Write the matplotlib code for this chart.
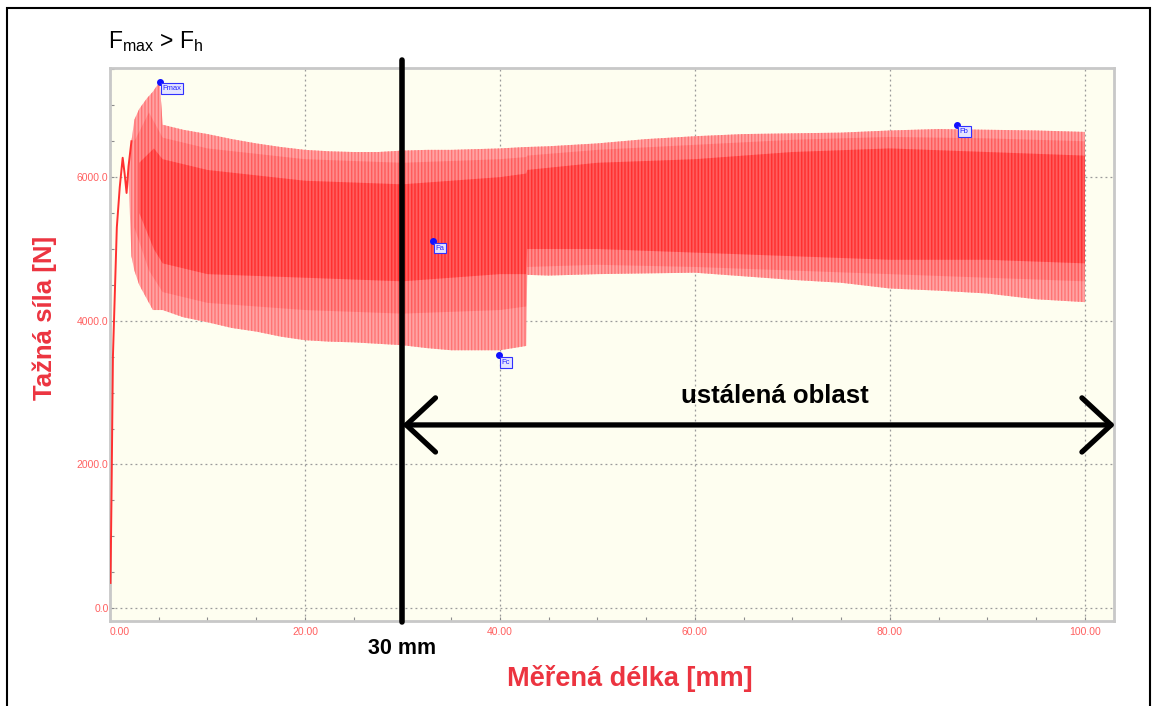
import matplotlib
matplotlib.use('Agg')
import matplotlib.pyplot as plt
from matplotlib.patches import Rectangle

plt.rcParams['font.family'] = ['Liberation Sans', 'DejaVu Sans']
plt.rcParams['mathtext.fontset'] = 'custom'
plt.rcParams['mathtext.rm'] = 'Liberation Sans'
plt.rcParams['hatch.linewidth'] = 1.0

# počáteční náběh síly [mm, N]
rise_x = [0.05, 0.15, 0.3, 0.5, 0.7, 1.0, 1.3, 1.5, 1.7, 1.9, 2.2]
rise_y = [350, 1500, 3500, 4400, 5300, 5860, 6270, 6050, 5780, 6150, 6500]

# obálka kmitání síly - horní a dolní mez [mm, N]
env_x = [1.9, 2.2, 2.5, 3.0, 3.8, 4.4, 5.1, 5.4, 7.5, 10, 12.5, 15, 17.5, 20,
         22.5, 25, 27.5, 30, 32.5, 35, 37.5, 40, 42.7, 42.8, 45, 47.5, 50,
         55, 60, 65, 70, 75, 80, 85, 90, 95, 100]
env_hi = [6150, 6500, 6800, 6950, 7100, 7190, 7330, 6730, 6660, 6600, 6530,
          6470, 6420, 6380, 6360, 6350, 6350, 6370, 6380, 6380, 6390, 6400,
          6420, 6420, 6430, 6450, 6470, 6530, 6570, 6600, 6610, 6620, 6650,
          6670, 6660, 6650, 6630]
env_lo = [6000, 4900, 4700, 4500, 4300, 4150, 4150, 4150, 4050, 3980, 3900,
          3850, 3780, 3730, 3710, 3700, 3680, 3660, 3620, 3590, 3590, 3590,
          3650, 4640, 4630, 4640, 4650, 4660, 4670, 4620, 4570, 4530, 4450,
          4420, 4380, 4300, 4260]

# středně hustá část záznamu
mid_x = [2.5, 4.0, 5.4, 10, 20, 30, 40, 42.7, 42.8, 50, 60, 70, 80, 90, 100]
mid_hi = [6500, 6900, 6550, 6400, 6250, 6200, 6250, 6280, 6300, 6380, 6450, 6520, 6560, 6540, 6500]
mid_lo = [5300, 4700, 4400, 4250, 4150, 4100, 4150, 4200, 4750, 4780, 4750, 4700, 4650, 4600, 4550]

# hustá (tmavá) část záznamu
core_x = [3.0, 4.5, 5.4, 10, 20, 30, 40, 42.7, 42.8, 50, 60, 70, 80, 90, 100]
core_hi = [6200, 6400, 6250, 6100, 5950, 5900, 6000, 6050, 6100, 6200, 6250, 6350, 6400, 6350, 6300]
core_lo = [5500, 5000, 4800, 4650, 4600, 4550, 4650, 4650, 5000, 5000, 4950, 4900, 4850, 4850, 4800]

# vyznačené body
mark_names = ['Fmax', 'Fa', 'Fc', 'Fb']
mark_x = [5.1, 33.1, 39.9, 86.9]
mark_y = [7330, 5110, 3520, 6730]

x_ticks = [0, 20, 40, 60, 80, 100]
y_ticks = [0, 2000, 4000, 6000]

red_lab = '#EC3440'

fig = plt.figure(figsize=(11.56, 7.06), dpi=100)
ax = fig.add_axes([110 / 1156, 85 / 706, 1004 / 1156, 553 / 706])
ax.set_facecolor('#FEFEF0')

ax.fill_between(env_x, env_lo, env_hi, facecolor='#FFA4A4', edgecolor='#FF7474',
                hatch='|||||', linewidth=0, zorder=2)
ax.fill_between(mid_x, mid_lo, mid_hi, facecolor='#FF6A6A', edgecolor='#FF4040',
                hatch='|||||', linewidth=0, alpha=0.4, zorder=3)
ax.fill_between(core_x, core_lo, core_hi, facecolor='#FF4040', edgecolor='#FF1E1E',
                hatch='|||||', linewidth=0, alpha=0.6, zorder=3)
ax.plot(rise_x, rise_y, color='#FF3030', lw=1.4, zorder=4)

for name, mx, my in zip(mark_names, mark_x, mark_y):
    ax.plot(mx, my, 'o', color='#1010FF', ms=4, zorder=6)
    ax.annotate(name, (mx, my), xytext=(2, -5), textcoords='offset points',
                fontsize=5.5, color='#2020FF', va='center', ha='left', zorder=7,
                bbox=dict(boxstyle='square,pad=0.25', fc='#E4E4FF', ec='#3030FF', lw=0.8))

ax.set_xlim(0, 103)
ax.set_ylim(-180, 7520)
ax.set_xticks(x_ticks)
ax.set_xticklabels([f'{v:.2f}' for v in x_ticks])
ax.set_yticks(y_ticks)
ax.set_yticklabels([f'{v:.1f}' for v in y_ticks])
ax.set_xticks(range(0, 101, 5), minor=True)
ax.set_yticks(range(0, 7501, 500), minor=True)
ax.get_xticklabels()[0].set_ha('left')
ax.tick_params(which='both', direction='in', color='#8C8C8C', length=3, width=0.8,
               labelcolor='#FF6060', labelsize=7.5)
ax.tick_params(axis='x', pad=4)
ax.tick_params(axis='y', pad=1)
ax.grid(True, which='major', color='#9A9A9A', ls=(0, (1.5, 2.5)), lw=0.9, zorder=1)
ax.set_axisbelow(True)
for s in ax.spines.values():
    s.set_color('#C8C8C8')
    s.set_linewidth(2)

# hranice 30 mm a ustálená oblast
ax.plot([30, 30], [-190, 7630], color='black', lw=4, solid_capstyle='round',
        clip_on=False, zorder=8)
ax.annotate('', xy=(30, 2550), xytext=(103.1, 2550),
            arrowprops=dict(arrowstyle='<->,head_length=0.84,head_width=0.78',
                            color='black', lw=3.8, mutation_scale=25,
                            shrinkA=0, shrinkB=0),
            annotation_clip=False, zorder=8)
ax.text(68.2, 2950, 'ustálená oblast', fontsize=18.5, fontweight='bold',
        ha='center', va='center', zorder=8)

fig.text(402 / 1156, 1 - 648 / 706, '30 mm', fontsize=15.5, fontweight='bold',
         ha='center', va='center')
fig.text(108 / 1156, 1 - 48 / 706, r'F$_{\mathrm{max}}$ > F$_{\mathrm{h}}$',
         fontsize=16.5, ha='left', va='baseline')
fig.text(630 / 1156, 1 - 678 / 706, 'Měřená délka [mm]', fontsize=19.5,
         fontweight='bold', color=red_lab, ha='center', va='center')
fig.text(45 / 1156, 1 - 318 / 706, 'Tažná síla [N]', fontsize=18.5,
         fontweight='bold', color=red_lab, ha='center', va='center', rotation=90)

fig.patches.append(Rectangle((0.006, -0.02), 0.989, 1.009, transform=fig.transFigure,
                             fill=False, ec='black', lw=1.5))

fig.savefig('out.png', dpi=100)
